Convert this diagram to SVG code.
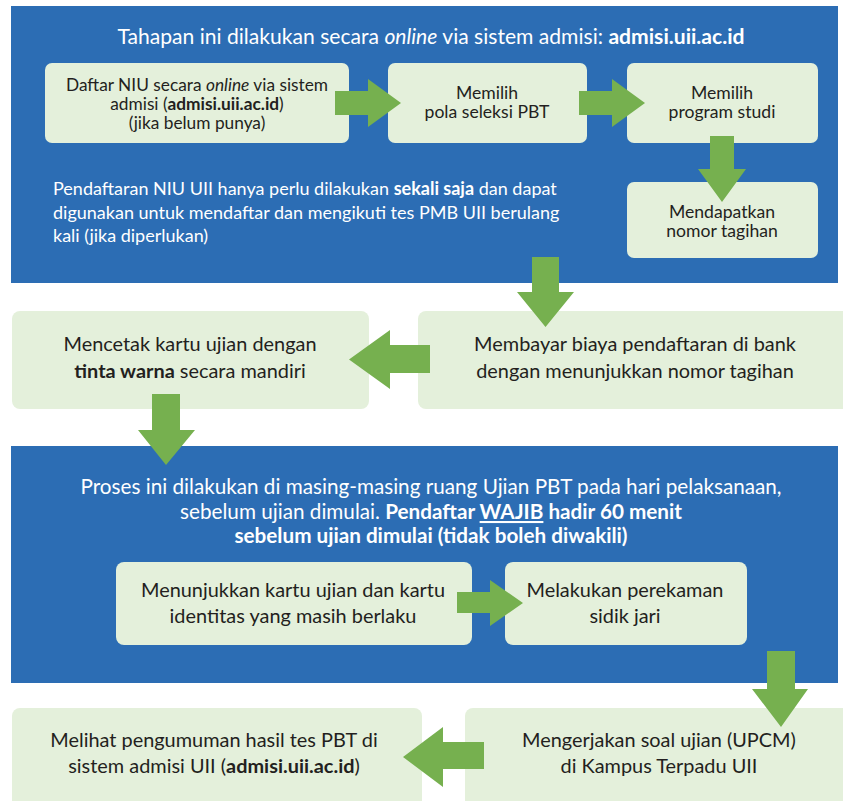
<svg xmlns="http://www.w3.org/2000/svg" width="843" height="801" viewBox="0 0 843 801">
<style>
.panel{fill:#2C6DB4}
.box{fill:#E4F0DB}
.arrow{fill:#76B04F}
text{font-family:"Lato","Noto Sans",sans-serif}
.dk{fill:#231F20;text-anchor:middle}
.wt{fill:#FFFFFF}
.c{text-anchor:middle}
.b{font-weight:bold}
.i{font-style:italic}
.s17{font-size:17.6px}
.n17{font-size:17.3px}
.p18{font-size:18px}
.s19{font-size:19.9px}
.s20{font-size:20.7px}
.t21{font-size:21.1px}
</style>
<rect width="843" height="801" fill="#FFFFFF"/>
<g id="panel-online">
<rect class="panel" x="11" y="6" width="827" height="277"/>
<text class="wt c t21" x="431" y="44">Tahapan ini dilakukan secara <tspan class="i">online</tspan> via sistem admisi: <tspan class="b">admisi.uii.ac.id</tspan></text>
<text class="wt p18" x="53" y="195">Pendaftaran NIU UII hanya perlu dilakukan <tspan class="b">sekali saja</tspan> dan dapat</text>
<text class="wt p18" x="53" y="219">digunakan untuk mendaftar dan mengikuti tes PMB UII berulang</text>
<text class="wt p18" x="53" y="242">kali (jika diperlukan)</text>
</g>
<g id="panel-ujian">
<rect class="panel" x="11" y="446" width="827" height="237"/>
<text class="wt c s20" x="431" y="494">Proses ini dilakukan di masing-masing ruang Ujian PBT pada hari pelaksanaan,</text>
<text class="wt c s20" x="431" y="519">sebelum ujian dimulai. <tspan class="b">Pendaftar <tspan text-decoration="underline">WAJIB</tspan> hadir 60 menit</tspan></text>
<text class="wt c s20 b" x="431" y="543">sebelum ujian dimulai (tidak boleh diwakili)</text>
</g>
<g id="node-daftar-niu">
<rect class="box" x="45" y="63" width="304" height="80" rx="7"/>
<text class="dk n17" x="197" y="90.5">Daftar NIU secara <tspan class="i">online</tspan> via sistem</text>
<text class="dk n17" x="197" y="109.5">admisi (<tspan class="b">admisi.uii.ac.id</tspan>)</text>
<text class="dk n17" x="197" y="128.5">(jika belum punya)</text>
</g>
<g id="node-pola">
<rect class="box" x="388" y="63" width="199" height="80" rx="7"/>
<text class="dk s17" x="487" y="99">Memilih</text>
<text class="dk s17" x="487" y="118">pola seleksi PBT</text>
</g>
<g id="node-prodi">
<rect class="box" x="627" y="63" width="191" height="80" rx="7"/>
<text class="dk s17" x="722" y="99">Memilih</text>
<text class="dk s17" x="722" y="118">program studi</text>
</g>
<g id="node-tagihan">
<rect class="box" x="627" y="182" width="191" height="76" rx="7"/>
<text class="dk s17" x="722" y="218">Mendapatkan</text>
<text class="dk s17" x="722" y="237">nomor tagihan</text>
</g>
<g id="node-membayar">
<rect class="box" x="418" y="311" width="440" height="98" rx="8"/>
<text class="dk s19" x="635" y="351" font-size="20.4">Membayar biaya pendaftaran di bank</text>
<text class="dk s19" x="635" y="378" font-size="20.4">dengan menunjukkan nomor tagihan</text>
</g>
<g id="node-mencetak">
<rect class="box" x="12" y="311" width="357" height="98" rx="8"/>
<text class="dk s19" x="190" y="351">Mencetak kartu ujian dengan</text>
<text class="dk s19" x="190" y="378"><tspan class="b">tinta warna</tspan> secara mandiri</text>
</g>
<g id="node-kartu">
<rect class="box" x="116" y="562" width="356" height="83" rx="8"/>
<text class="dk s19" x="293" y="597">Menunjukkan kartu ujian dan kartu</text>
<text class="dk s19" x="293" y="623">identitas yang masih berlaku</text>
</g>
<g id="node-sidik">
<rect class="box" x="505" y="562" width="242" height="83" rx="8"/>
<text class="dk s19" x="625" y="597">Melakukan perekaman</text>
<text class="dk s19" x="625" y="623">sidik jari</text>
</g>
<g id="node-mengerjakan">
<rect class="box" x="465" y="708" width="393" height="110" rx="8"/>
<text class="dk s19" x="659" y="747">Mengerjakan soal ujian (UPCM)</text>
<text class="dk s19" x="659" y="773">di Kampus Terpadu UII</text>
</g>
<g id="node-melihat">
<rect class="box" x="12" y="708" width="410" height="110" rx="8"/>
<text class="dk s19" x="214" y="747">Melihat pengumuman hasil tes PBT di</text>
<text class="dk s19" x="214" y="773">sistem admisi UII (<tspan class="b">admisi.uii.ac.id</tspan>)</text>
</g>
<g id="connectors">
<polygon class="arrow" points="335,91 368,91 368,79 401,103 368,127 368,115 335,115"/>
<polygon class="arrow" points="579,91 612,91 612,79 645,103 612,127 612,115 579,115"/>
<polygon class="arrow" points="710,136 734,136 734,169 746,169 722,202 698,169 710,169"/>
<polygon class="arrow" points="532,257 559,257 559,292 574,292 545.5,327 517,292 532,292"/>
<polygon class="arrow" points="430,345 390,345 390,330 349,359.5 390,389 390,373 430,373"/>
<polygon class="arrow" points="152,394 180,394 180,430 195,430 166,465 138,430 152,430"/>
<polygon class="arrow" points="457,592 490,592 490,580 523,603 490,626 490,613 457,613"/>
<polygon class="arrow" points="767,651 795,651 795,689 808,689 781,727 752,689 767,689"/>
<polygon class="arrow" points="484,742 443,742 443,727 403,757 443,787 443,769 484,769"/>
</g>
</svg>
